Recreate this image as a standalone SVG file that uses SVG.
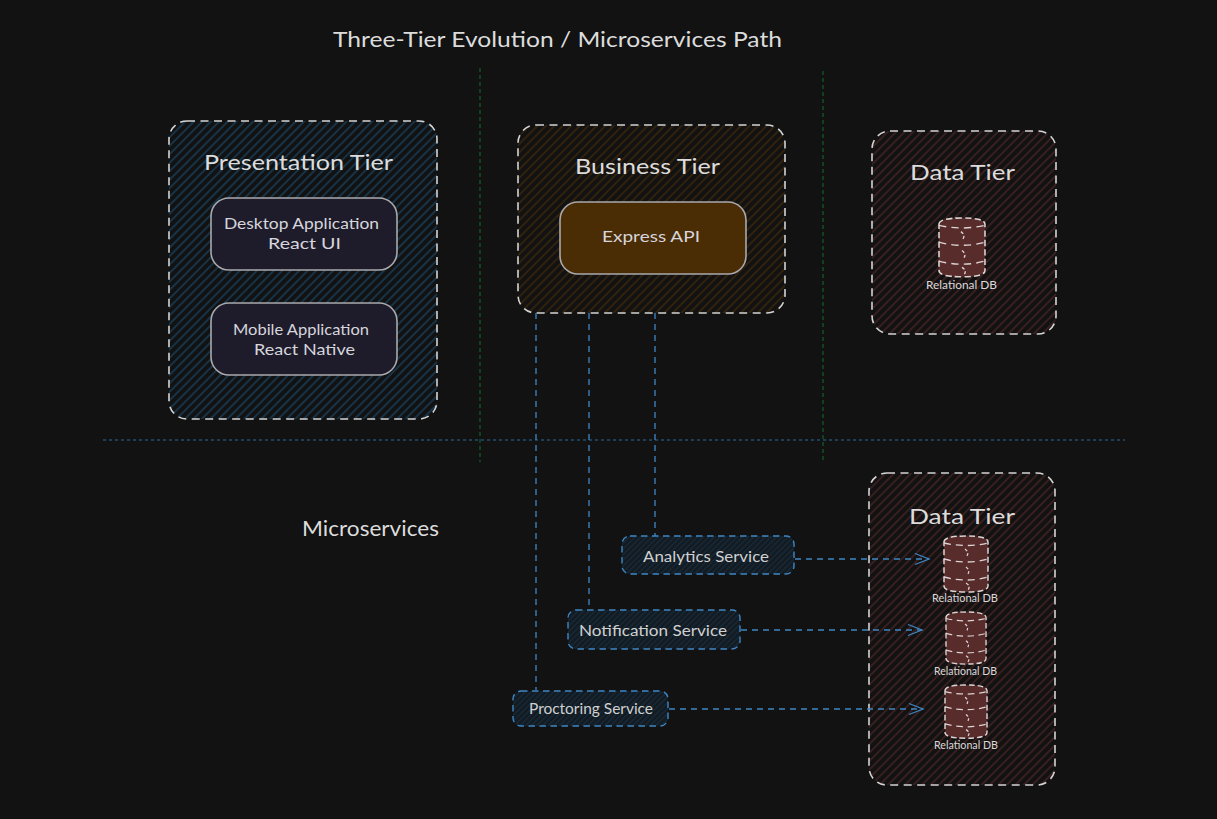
<svg xmlns="http://www.w3.org/2000/svg" width="1217" height="819" viewBox="0 0 1217 819">
<style>
text{font-family:"Lato","Open Sans","DejaVu Sans",sans-serif;fill:#dcdcdc}
.t{font-size:22px}
.n{font-size:16px;fill:#d6d6dc}
.s{font-size:14.5px;fill:#d0d0d0}
.d{font-size:10.5px;fill:#d8d8d8}
.tier{stroke:#d4d4d4;stroke-width:1.6;stroke-dasharray:8 5.5}
.inner{stroke:#a9a9ad;stroke-width:1.6}
.svc{stroke:#3f86c4;stroke-width:1.4;stroke-dasharray:6.5 4.5}
.cyl{fill:#592c2c;stroke:#dcd4d4;stroke-width:1.5;stroke-dasharray:6 3}
.cl{fill:none;stroke:#dcd4d4;stroke-width:1.3;stroke-dasharray:7 5}
.sq{fill:none;stroke:#dcd4d4;stroke-width:1.3;stroke-dasharray:3 2}
.conn{fill:none;stroke:#3f86c4;stroke-width:1.3;stroke-dasharray:6 5}
.g{fill:none;stroke:#125a26;stroke-width:1.3;stroke-dasharray:4 3}
.b{fill:none;stroke:#234c6e;stroke-width:1.3;stroke-dasharray:3 3}
</style>
<defs>
<pattern id="hb" width="6" height="6" patternUnits="userSpaceOnUse" patternTransform="rotate(45)"><rect width="6" height="6" fill="#121212"/><rect width="2" height="6" fill="#173347"/></pattern>
<pattern id="ho" width="6" height="6" patternUnits="userSpaceOnUse" patternTransform="rotate(45)"><rect width="6" height="6" fill="#121212"/><rect width="1.8" height="6" fill="#33230d"/></pattern>
<pattern id="hr" width="6" height="6" patternUnits="userSpaceOnUse" patternTransform="rotate(45)"><rect width="6" height="6" fill="#121212"/><rect width="1.8" height="6" fill="#3c2020"/></pattern>
<pattern id="hs" width="4" height="4" patternUnits="userSpaceOnUse" patternTransform="rotate(45)"><rect width="4" height="4" fill="#131a20"/><rect width="1.4" height="4" fill="#162a3a"/></pattern>
<marker id="arr" markerWidth="18" markerHeight="14" refX="15" refY="7" orient="auto" markerUnits="userSpaceOnUse"><path d="M1 1.5 L15 7 L1 12.5" fill="none" stroke="#3f86c4" stroke-width="1.3"/></marker>
<g id="cylinder">
<path class="cyl" d="M0 6 Q0 0 22 0 Q44 0 44 6 V50 Q44 56 22 56 Q0 56 0 50 Z"/>
<path class="cl" d="M0 7 Q22 12 44 7 M0 23 Q22 29 44 23 M0 41 Q22 47 44 41"/>
<path class="sq" d="M21 13 Q26 17 22 21 M22 31 Q27 35 23 39 M22 47 Q27 50 24 54"/>
</g>
</defs>
<rect width="1217" height="819" fill="#121212"/>

<g id="separators">
<path class="g" d="M480 68V462M823 71V462"/>
<path class="b" d="M103 440H1125"/>
</g>

<text id="title" class="t" x="333" y="47" textLength="449" lengthAdjust="spacingAndGlyphs">Three-Tier Evolution / Microservices Path</text>
<text id="micro-label" class="t" x="302" y="536" textLength="137" lengthAdjust="spacingAndGlyphs">Microservices</text>

<g id="presentation-tier">
<rect class="tier" x="169" y="121" width="268" height="298" rx="18" fill="url(#hb)"/>
<text class="t" x="204" y="170" textLength="189" lengthAdjust="spacingAndGlyphs">Presentation Tier</text>
</g>
<g id="desktop-app">
<rect class="inner" x="211" y="198" width="186" height="72" rx="18" fill="#1e1c2b"/>
<text class="n" x="224" y="229" textLength="155" lengthAdjust="spacingAndGlyphs">Desktop Application</text>
<text class="n" x="268" y="249" textLength="73" lengthAdjust="spacingAndGlyphs">React UI</text>
</g>
<g id="mobile-app">
<rect class="inner" x="211" y="303" width="186" height="72" rx="18" fill="#1e1c2b"/>
<text class="n" x="233" y="335" textLength="136" lengthAdjust="spacingAndGlyphs">Mobile Application</text>
<text class="n" x="254" y="355" textLength="101" lengthAdjust="spacingAndGlyphs">React Native</text>
</g>

<g id="business-tier">
<rect class="tier" x="518" y="125" width="267" height="188" rx="18" fill="url(#ho)"/>
<text class="t" x="575" y="174" textLength="145" lengthAdjust="spacingAndGlyphs">Business Tier</text>
</g>
<g id="express-api">
<rect class="inner" x="560" y="202" width="186" height="72" rx="18" fill="#4a2c05"/>
<text class="n" x="602" y="242" textLength="98" lengthAdjust="spacingAndGlyphs">Express API</text>
</g>

<g id="data-tier">
<rect class="tier" x="872" y="131" width="184" height="203" rx="18" fill="url(#hr)"/>
<text class="t" x="910" y="180" textLength="105" lengthAdjust="spacingAndGlyphs">Data Tier</text>
</g>
<g id="db-main">
<use href="#cylinder" transform="translate(939 218) scale(1.045 1.05)"/>
<text class="d" x="926" y="289" textLength="71" lengthAdjust="spacingAndGlyphs">Relational DB</text>
</g>

<g id="data-tier-micro">
<rect class="tier" x="869" y="473" width="186" height="312" rx="18" fill="url(#hr)"/>
<text class="t" x="909" y="524" textLength="106" lengthAdjust="spacingAndGlyphs">Data Tier</text>
</g>
<g id="db-analytics">
<use href="#cylinder" transform="translate(944 536)"/>
<text class="d" x="932" y="602" textLength="66" lengthAdjust="spacingAndGlyphs">Relational DB</text>
</g>
<g id="db-notification">
<use href="#cylinder" transform="translate(946 612) scale(.91 .93)"/>
<text class="d" x="934" y="675" textLength="63" lengthAdjust="spacingAndGlyphs">Relational DB</text>
</g>
<g id="db-proctoring">
<use href="#cylinder" transform="translate(945 685) scale(.955 .95)"/>
<text class="d" x="934" y="749" textLength="64" lengthAdjust="spacingAndGlyphs">Relational DB</text>
</g>

<g id="connectors">
<path class="conn" d="M536 313V690"/>
<path class="conn" d="M589 313V610"/>
<path class="conn" d="M655 313V536"/>
<path class="conn" d="M795 559H929" marker-end="url(#arr)"/>
<path class="conn" d="M741 630H922" marker-end="url(#arr)"/>
<path class="conn" d="M669 709H923" marker-end="url(#arr)"/>
</g>

<g id="analytics-service">
<rect class="svc" x="622" y="536" width="172" height="38" rx="8" fill="url(#hs)"/>
<text class="s" x="643" y="562" textLength="126" lengthAdjust="spacingAndGlyphs">Analytics Service</text>
</g>
<g id="notification-service">
<rect class="svc" x="568" y="610" width="172" height="39" rx="8" fill="url(#hs)"/>
<text class="s" x="579" y="636" textLength="148" lengthAdjust="spacingAndGlyphs">Notification Service</text>
</g>
<g id="proctoring-service">
<rect class="svc" x="513" y="691" width="155" height="35" rx="8" fill="url(#hs)"/>
<text class="s" x="529" y="714" textLength="124" lengthAdjust="spacingAndGlyphs">Proctoring Service</text>
</g>
</svg>
